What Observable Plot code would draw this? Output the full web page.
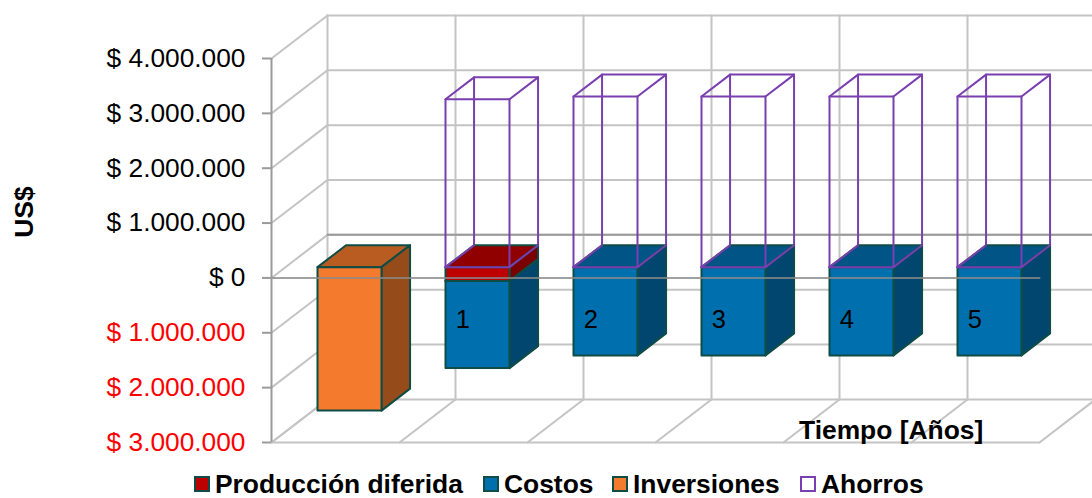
<!DOCTYPE html>
<html><head><meta charset="utf-8">
<script src="https://cdn.jsdelivr.net/npm/d3@7"></script>
<script src="https://cdn.jsdelivr.net/npm/@observablehq/plot@0.6"></script>
<style>
html,body{margin:0;padding:0;background:#fff;overflow:hidden}
#wrap{position:relative;width:1092px;height:498px;font-family:"Liberation Sans",Arial,sans-serif}
svg{display:block;position:absolute;left:0;top:0}
.lg{position:absolute;top:469px;font-weight:bold;font-size:26.4px;line-height:30px;color:#000;white-space:nowrap}
.sw{position:absolute;top:476px;width:12px;height:12px;border:2px solid #0f4c46}
</style></head><body><div id="wrap"></div>
<script>
const years = ["1","2","3","4","5"];
const barSlots = [0,1,2,3,4,5];
const inversiones = [2615000,0,0,0,0,0];
const produccionDiferida = [0,250000,0,0,0,0];
const costos = [0,1590000,1610000,1610000,1610000,1610000];
const ahorros = [0,3060000,3110000,3110000,3110000,3110000];
const yTicksPos = [0,1000000,2000000,3000000,4000000];
const yTicksNeg = [-1000000,-2000000,-3000000];
const gridValues = [-3000000,-2000000,-1000000,0,1000000,2000000,3000000,4000000];
const gridSlots = [0,1,2,3,4,5,6];
const legend = ["Producción diferida","Costos","Inversiones","Ahorros"];

const DEPTH_X = 0.4375, DEPTH_Y = 785000, XMAX = 6;
const P = (x,y,z=0)=>({x:x+z*DEPTH_X,y:y+z*DEPTH_Y});
const seg = (id,pts)=>pts.map(p=>({...p,id}));
function box(slot,y0,y1,key){
  const a=slot+0.25,b=slot+0.75,z0=0.25,z1=0.76;
  return {
    front:seg(key+"f",[P(a,y0,z0),P(b,y0,z0),P(b,y1,z0),P(a,y1,z0),P(a,y0,z0)]),
    top:seg(key+"t",[P(a,y0,z0),P(b,y0,z0),P(b,y0,z1),P(a,y0,z1),P(a,y0,z0)]),
    side:seg(key+"s",[P(b,y0,z0),P(b,y0,z1),P(b,y1,z1),P(b,y1,z0),P(b,y0,z0)])
  };
}
const EDGE="#0f4c46", GRID="#c4c4c4", AXIS="#9a9a9a", PURPLE="#7a3fae";
const poly=(data,fill,stroke=EDGE,sw=2)=>Plot.line(data,{x:"x",y:"y",z:"id",fill,stroke,strokeWidth:sw,strokeLinejoin:"round",curve:"linear"});
const faces=(boxes,f,t,s)=>[
  poly(boxes.flatMap(b=>b.top),t),
  poly(boxes.flatMap(b=>b.side),s),
  poly(boxes.flatMap(b=>b.front),f)
];
const yMin=gridValues[0], yMax=gridValues[gridValues.length-1];
const gridLines=[];
gridValues.forEach(v=>{
  gridLines.push(...seg("wall"+v,[P(0,v,0),P(0,v,1)]));
  gridLines.push(...seg("back"+v,[P(0,v,1),P(7,v,1)]));
});
gridSlots.forEach(s=>{
  gridLines.push(...seg("floor"+s,[P(s,yMin,0),P(s,yMin,1)]));
  gridLines.push(...seg("vert"+s,[P(s,yMin,1),P(s,yMax,1)]));
});
gridLines.push(...seg("frontfloor",[P(0,yMin,0),P(XMAX,yMin,0)]));
const zeroBack=seg("zb",[P(0,0,1),P(7,0,1)]);
const zeroFront=seg("zf",[P(0,0,0),P(XMAX,0,0)]);

const invBoxes=barSlots.filter(i=>inversiones[i]).map(i=>box(i,0,-inversiones[i],"i"+i));
const prodBoxes=barSlots.filter(i=>produccionDiferida[i]).map(i=>box(i,0,-produccionDiferida[i],"p"+i));
const costBoxes=barSlots.filter(i=>costos[i]).map(i=>box(i,-produccionDiferida[i],-produccionDiferida[i]-costos[i],"c"+i));
const saveLines=barSlots.filter(i=>ahorros[i]).flatMap(i=>{
  const b=box(i,ahorros[i],0,"a"+i);
  const a=i+0.25,r=i+0.75,z0=0.25,z1=0.76,t=ahorros[i];
  return [
    ...b.front,
    ...seg("a"+i+"b1",[P(a,0,z1),P(a,t,z1),P(r,t,z1),P(r,0,z1)]),
    ...seg("a"+i+"d1",[P(a,t,z0),P(a,t,z1)]),
    ...seg("a"+i+"d2",[P(r,t,z0),P(r,t,z1)]),
    ...seg("a"+i+"d3",[P(a,0,z0),P(a,0,z1)]),
    ...seg("a"+i+"d4",[P(r,0,z0),P(r,0,z1)])
  ];
});
const money=d=>"$ "+d3.format(",")(Math.abs(d)).replace(/,/g,".");
const chart=Plot.plot({
  width:1092,height:498,margin:0,
  x:{domain:[0,XMAX],range:[271,1039],axis:null},
  y:{domain:[yMin,yMax],range:[442,58],axis:null},
  style:{background:"transparent",fontFamily:'"Liberation Sans",Arial,sans-serif'},
  marks:[
    Plot.line(gridLines,{x:"x",y:"y",z:"id",stroke:GRID,strokeWidth:2}),
    Plot.line(zeroBack,{x:"x",y:"y",z:"id",stroke:AXIS,strokeWidth:2}),
    Plot.line(saveLines.filter(d=>/b1$/.test(d.id)),{x:"x",y:"y",z:"id",stroke:PURPLE,strokeWidth:2}),
    ...faces(invBoxes,"#f47a2e","#b85c22","#964c1a"),
    ...faces(costBoxes,"#006fad","#005586","#00466f"),
    ...faces(prodBoxes,"#bd0000","#900000","#7a0000"),
    Plot.line(zeroFront,{x:"x",y:"y",z:"id",stroke:"#8a8a8a",strokeWidth:2,strokeOpacity:0.8}),
    Plot.line(saveLines.filter(d=>!/b1$/.test(d.id)),{x:"x",y:"y",z:"id",stroke:PURPLE,strokeWidth:2}),
    Plot.axisY(yTicksPos,{anchor:"left",x:0,tickSize:9,tickPadding:17,tickFormat:money,stroke:AXIS,strokeWidth:2,fontSize:26.3,fill:"#000",label:null}),
    Plot.axisY(yTicksNeg,{anchor:"left",x:0,tickSize:9,tickPadding:17,tickFormat:money,stroke:AXIS,strokeWidth:2,fontSize:26.3,fill:"#ff0000",label:null}),
    Plot.ruleX([0],{y1:yMin,y2:yMax,stroke:AXIS,strokeWidth:2}),
    Plot.text(years,{x:(d,i)=>i+1.495,y:()=>-760000,text:d=>d,fontSize:25.5,fill:"#000"})
  ]
});
const wrap=document.getElementById("wrap");
wrap.appendChild(chart);
const t=document.createElement("div");
t.className="lg";t.textContent="Tiempo [Años]";t.style.left="799px";t.style.top="415px";wrap.appendChild(t);
const u=document.createElement("div");
u.textContent="US$";u.style.cssText="position:absolute;left:24px;top:212px;font-weight:bold;font-size:26.4px;transform:translate(-50%,-50%) rotate(-90deg);white-space:nowrap";wrap.appendChild(u);
const swatches=[["#bd0000",EDGE,194,215],["#006fad",EDGE,483,504],["#f47a2e",EDGE,612,633],["#fff",PURPLE,800,821]];
legend.forEach((name,i)=>{
  const [bg,bd,sx,tx]=swatches[i];
  const s=document.createElement("div");s.className="sw";s.style.left=sx+"px";s.style.background=bg;s.style.borderColor=bd;wrap.appendChild(s);
  const l=document.createElement("div");l.className="lg";l.style.left=tx+"px";l.textContent=name;wrap.appendChild(l);
});
</script></body></html>
